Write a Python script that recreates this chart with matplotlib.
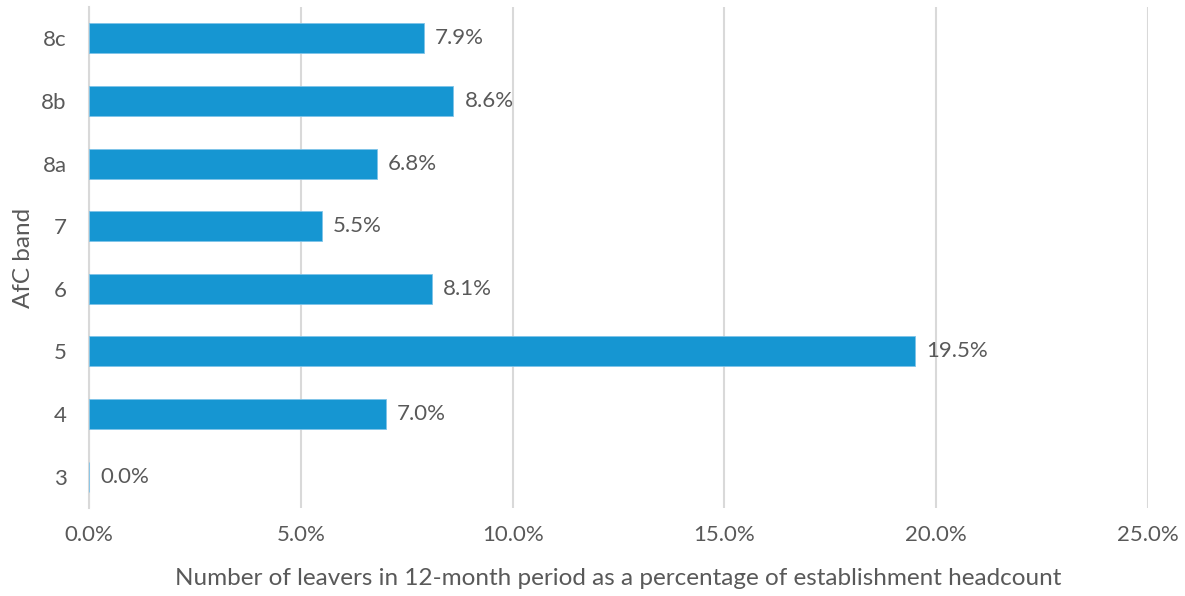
import matplotlib.pyplot as plt
from matplotlib.ticker import FuncFormatter

bands = ["3", "4", "5", "6", "7", "8a", "8b", "8c"]
leaver_pct = [0.0, 7.0, 19.5, 8.1, 5.5, 6.8, 8.6, 7.9]
x_ticks = [0, 5, 10, 15, 20, 25]

bar_color = "#1696D2"
text_color = "#595959"
grid_color = "#D9D9D9"

plt.rcParams["font.family"] = ["Lato", "DejaVu Sans"]

fig = plt.figure(figsize=(11.85, 5.96), dpi=100)
ax = fig.add_axes([0.0751, 0.1477, 0.8937, 0.8403])

y = range(len(bands))
bars = ax.barh(y, leaver_pct, height=0.48, color=bar_color,
               edgecolor="#7FC3E8", linewidth=0.6, zorder=3)

for yi, v in zip(y, leaver_pct):
    ax.annotate(f"{v:.1f}%", xy=(v, yi), xytext=(8, 0), textcoords="offset points",
                va="center", ha="left", fontsize=16, color=text_color)

ax.set_xlim(0, 25)
ax.set_ylim(-0.5, len(bands) - 0.5)
ax.set_xticks(x_ticks)
ax.xaxis.set_major_formatter(FuncFormatter(lambda v, p: f"{v:.1f}%"))
ax.set_yticks(list(y))
ax.set_yticklabels(bands)

ax.grid(axis="x", color=grid_color, linewidth=1.5, zorder=0)
for s in ["top", "right", "bottom"]:
    ax.spines[s].set_visible(False)
ax.spines["left"].set_color(grid_color)
ax.spines["left"].set_linewidth(1.5)
ax.tick_params(length=0, colors=text_color, labelsize=16)
ax.tick_params(axis="x", pad=12)
ax.tick_params(axis="y", pad=16)

ax.set_xlabel("Number of leavers in 12-month period as a percentage of establishment headcount",
              fontsize=17.5, color=text_color, labelpad=17)
ax.set_ylabel("AfC band", fontsize=17.5, color=text_color, labelpad=5)

fig.savefig("out.png", dpi=100)
